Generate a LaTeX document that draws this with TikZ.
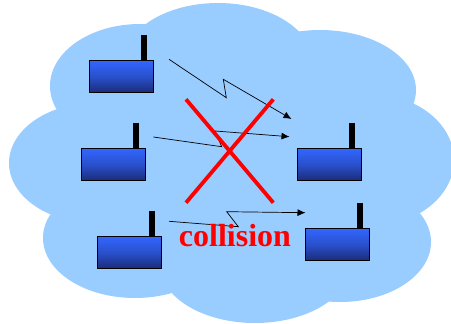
\documentclass[tikz,border=0pt]{standalone}
\usepackage{fontspec}
\setmainfont{Liberation Serif}
\usetikzlibrary{arrows.meta,positioning}
\definecolor{cnube}{HTML}{99CCFF}
\definecolor{cequipoa}{HTML}{3366FF}
\definecolor{cequipob}{HTML}{1A2C78}
\definecolor{calarma}{HTML}{FF0000}
\tikzset{
  equipo/.style={draw=black,line width=1pt,top color=cequipoa,bottom color=cequipob,
                 middle color=cequipoa!62!cequipob,inner sep=0pt,
                 minimum width=64.4pt,minimum height=32.4pt},
  mastil/.style={fill=black,inner sep=0pt,minimum width=6pt,minimum height=25pt},
  enlace/.style={-{Latex[length=8pt,width=7pt]},draw=black,line width=0.7pt},
  cruz/.style={draw=calarma,line width=3.8pt},
  aviso/.style={font=\fontsize{32}{32}\selectfont\bfseries,text=calarma,inner sep=0pt},
}
\begin{document}
\begin{tikzpicture}[x=1pt,y=-1pt]
\useasboundingbox (0,0) rectangle (451,324);

% ---------------- nube ----------------
\fill[cnube] (100,60) rectangle (380,270);
\foreach \cx/\cy/\rx/\ry in {140/86/90/62,218/63/95/60,320/90/96/60,370/160/84/66,
                             340/242/91/60,255/265/95/58,135/238/92/60,95/163/86/60}
  \fill[cnube] (\cx,\cy) ellipse [x radius=\rx,y radius=\ry];

% ---------------- equipos ----------------
\foreach \n/\x/\y in {1/121.5/76.5,2/113.5/164.5,3/129.5/252.5,4/329.5/164.5,5/337.5/244.5} {
  \node[equipo] (e\n) at (\x,\y) {};
  \node[mastil,anchor=south,xshift=22.5pt] (m\n) at (e\n.north) {};
}

% ---------------- enlaces ----------------
\coordinate (s1) at (169,59.3);
\coordinate (t1) at (291.5,119);
\coordinate (s2) at (153.3,137);
\coordinate (t2) at (289.5,136.7);
\coordinate (s3) at (169,221.3);
\coordinate (t3) at (305.5,212.7);
\draw[enlace] (s1) -- (226.3,97.7) -- (223.3,79.3) -- (t1);
\draw[enlace] (s2) -- (221.7,146.7) -- (215,131) -- (t2);
\draw[enlace] (s3) -- (238.3,226.7) -- (226.7,211.7) -- (t3);

% ---------------- cruz ----------------
\coordinate (c1) at (186,99.3);
\coordinate (c2) at (273.3,202.7);
\coordinate (c3) at (273.3,99.3);
\coordinate (c4) at (186,202.7);
\draw[cruz] (c1) -- (c2);
\draw[cruz] (c3) -- (c4);

\node[aviso] (colision) at (235,236) {collision};

\end{tikzpicture}
\end{document}
